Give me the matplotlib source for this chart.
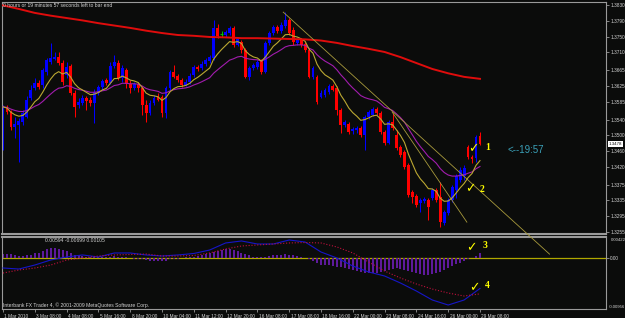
import numpy as np
import pandas as pd
import matplotlib
matplotlib.use("Agg")
import matplotlib.pyplot as plt
from matplotlib import transforms

# EURUSD-like candles, 1 Mar - 29 Mar 2010
opens = [1.3470, 1.3572, 1.3559, 1.3521, 1.3526, 1.3534, 1.3546, 1.3595, 1.3620, 1.3633,
         1.3627, 1.3660, 1.3686, 1.3693, 1.3698, 1.3683, 1.3653, 1.3676, 1.3607, 1.3577,
         1.3582, 1.3595, 1.3589, 1.3582, 1.3607, 1.3622, 1.3640, 1.3633, 1.3676, 1.3683,
         1.3645, 1.3665, 1.3630, 1.3620, 1.3630, 1.3620, 1.3577, 1.3557, 1.3582, 1.3600,
         1.3597, 1.3557, 1.3620, 1.3660, 1.3650, 1.3640, 1.3627, 1.3635, 1.3653, 1.3673,
         1.3671, 1.3681, 1.3688, 1.3696, 1.3772, 1.3757, 1.3754, 1.3759, 1.3772, 1.3729,
         1.3736, 1.3716, 1.3648, 1.3671, 1.3673, 1.3688, 1.3660, 1.3734, 1.3759, 1.3774,
         1.3764, 1.3777, 1.3792, 1.3767, 1.3734, 1.3741, 1.3731, 1.3716, 1.3648, 1.3648,
         1.3597, 1.3602, 1.3610, 1.3625, 1.3620, 1.3564, 1.3526, 1.3529, 1.3511, 1.3513,
         1.3518, 1.3501, 1.3546, 1.3551, 1.3567, 1.3557, 1.3508, 1.3480, 1.3534, 1.3501,
         1.3470, 1.3458, 1.3425, 1.3356, 1.3346, 1.3329, 1.3334, 1.3336, 1.3341, 1.3361,
         1.3344, 1.3278, 1.3303, 1.3336, 1.3361, 1.3387, 1.3397, 1.3470, 1.3445, 1.3443,
         1.3498]
highs = [1.3577, 1.3577, 1.3564, 1.3546, 1.3544, 1.3564, 1.3600, 1.3627, 1.3645, 1.3640,
         1.3671, 1.3696, 1.3734, 1.3711, 1.3711, 1.3691, 1.3686, 1.3681, 1.3615, 1.3595,
         1.3602, 1.3600, 1.3597, 1.3617, 1.3627, 1.3643, 1.3645, 1.3686, 1.3703, 1.3691,
         1.3678, 1.3671, 1.3640, 1.3635, 1.3635, 1.3625, 1.3589, 1.3589, 1.3602, 1.3607,
         1.3602, 1.3625, 1.3665, 1.3678, 1.3655, 1.3645, 1.3643, 1.3658, 1.3678, 1.3678,
         1.3688, 1.3696, 1.3703, 1.3792, 1.3782, 1.3764, 1.3767, 1.3777, 1.3777, 1.3749,
         1.3741, 1.3721, 1.3676, 1.3683, 1.3691, 1.3693, 1.3739, 1.3764, 1.3779, 1.3779,
         1.3787, 1.3812, 1.3797, 1.3774, 1.3746, 1.3746, 1.3736, 1.3721, 1.3676, 1.3653,
         1.3615, 1.3620, 1.3630, 1.3630, 1.3625, 1.3569, 1.3539, 1.3534, 1.3521, 1.3524,
         1.3524, 1.3551, 1.3564, 1.3572, 1.3572, 1.3562, 1.3513, 1.3539, 1.3557, 1.3513,
         1.3475, 1.3463, 1.3430, 1.3361, 1.3351, 1.3341, 1.3344, 1.3341, 1.3367, 1.3367,
         1.3382, 1.3311, 1.3341, 1.3374, 1.3402, 1.3420, 1.3425, 1.3475, 1.3450, 1.3501,
         1.3508]
lows = [1.3463, 1.3554, 1.3513, 1.3493, 1.3432, 1.3526, 1.3544, 1.3589, 1.3615, 1.3617,
        1.3620, 1.3653, 1.3681, 1.3691, 1.3678, 1.3627, 1.3645, 1.3602, 1.3546, 1.3569,
        1.3577, 1.3564, 1.3574, 1.3531, 1.3602, 1.3615, 1.3627, 1.3630, 1.3671, 1.3640,
        1.3635, 1.3620, 1.3607, 1.3615, 1.3610, 1.3551, 1.3534, 1.3551, 1.3577, 1.3587,
        1.3546, 1.3544, 1.3615, 1.3645, 1.3635, 1.3622, 1.3625, 1.3630, 1.3648, 1.3663,
        1.3665, 1.3676, 1.3683, 1.3691, 1.3746, 1.3749, 1.3749, 1.3754, 1.3724, 1.3726,
        1.3709, 1.3645, 1.3640, 1.3665, 1.3668, 1.3655, 1.3658, 1.3729, 1.3754, 1.3759,
        1.3759, 1.3772, 1.3754, 1.3729, 1.3729, 1.3724, 1.3711, 1.3645, 1.3643, 1.3579,
        1.3595, 1.3597, 1.3605, 1.3612, 1.3551, 1.3506, 1.3521, 1.3503, 1.3503, 1.3506,
        1.3496, 1.3463, 1.3541, 1.3549, 1.3551, 1.3503, 1.3475, 1.3478, 1.3513, 1.3463,
        1.3445, 1.3415, 1.3344, 1.3329, 1.3318, 1.3306, 1.3329, 1.3285, 1.3336, 1.3331,
        1.3268, 1.3273, 1.3298, 1.3331, 1.3341, 1.3382, 1.3387, 1.3440, 1.3430, 1.3432,
        1.3475]
closes = [1.3572, 1.3559, 1.3521, 1.3529, 1.3536, 1.3557, 1.3589, 1.3615, 1.3633, 1.3622,
          1.3665, 1.3691, 1.3696, 1.3698, 1.3683, 1.3635, 1.3673, 1.3607, 1.3572, 1.3584,
          1.3595, 1.3587, 1.3582, 1.3610, 1.3622, 1.3638, 1.3633, 1.3676, 1.3686, 1.3645,
          1.3671, 1.3630, 1.3620, 1.3630, 1.3620, 1.3577, 1.3557, 1.3582, 1.3595, 1.3589,
          1.3557, 1.3620, 1.3660, 1.3648, 1.3640, 1.3627, 1.3635, 1.3650, 1.3673, 1.3668,
          1.3681, 1.3691, 1.3698, 1.3772, 1.3752, 1.3757, 1.3762, 1.3772, 1.3729, 1.3744,
          1.3716, 1.3648, 1.3671, 1.3678, 1.3686, 1.3660, 1.3734, 1.3759, 1.3774, 1.3764,
          1.3779, 1.3792, 1.3759, 1.3736, 1.3741, 1.3729, 1.3716, 1.3648, 1.3671, 1.3584,
          1.3607, 1.3615, 1.3625, 1.3615, 1.3564, 1.3526, 1.3534, 1.3508, 1.3516, 1.3518,
          1.3501, 1.3546, 1.3559, 1.3567, 1.3557, 1.3508, 1.3480, 1.3534, 1.3518, 1.3468,
          1.3450, 1.3420, 1.3349, 1.3344, 1.3323, 1.3336, 1.3339, 1.3318, 1.3361, 1.3336,
          1.3280, 1.3306, 1.3336, 1.3369, 1.3397, 1.3412, 1.3417, 1.3445, 1.3440, 1.3496,
          1.3478]

# long moving average (red), sampled every 4 bars
slow_ma_bars = list(range(0, 121, 4))
slow_ma = [1.3829, 1.3820, 1.3810, 1.3803, 1.3797, 1.3791, 1.3784, 1.3778, 1.3772, 1.3765,
           1.3759, 1.3754, 1.3752, 1.3749, 1.3748, 1.3746, 1.3746, 1.3745, 1.3744, 1.3743,
           1.3740, 1.3734, 1.3726, 1.3719, 1.3711, 1.3698, 1.3683, 1.3668, 1.3657, 1.3648,
           1.3643]

# oscillator window: main line, signal line (every 4 bars) and histogram (every bar)
osc_bars = list(range(0, 121, 4))
osc_main = [-0.00195, -0.00215, -0.00137, -0.00039, 0.00020, 0.00059, 0.00020, 0.00098, 0.00098, 0.00059,
            0.00039, 0.00059, 0.00088, 0.00156, 0.00293, 0.00332, 0.00273, 0.00273, 0.00351, 0.00312,
            0.00117, 0.0, -0.00156, -0.00273, -0.00351, -0.00488, -0.00644, -0.00819, -0.00917, -0.00819,
            -0.00594]
osc_signal = [-0.00293, -0.00234, -0.00195, -0.00137, -0.00039, 0.0, 0.00039, 0.00059, 0.00068, 0.00078,
              0.00039, 0.00039, 0.00049, 0.00098, 0.00176, 0.00234, 0.00254, 0.00273, 0.00293, 0.00302,
              0.00293, 0.00215, 0.00098, -0.00078, -0.00254, -0.00390, -0.00507, -0.00605, -0.00683, -0.00741,
              -0.00699]
osc_hist = [0.00078, 0.00078, 0.00078, 0.00059, 0.00039, 0.00039, 0.00049, 0.00059, 0.00088, 0.00107,
            0.00127, 0.00166, 0.00195, 0.00195, 0.00185, 0.00156, 0.00127, 0.00098, 0.00068, 0.00059,
            0.00039, 0.00029, 0.00020, 0.00020, 0.00010, 0.00010, 0.00020, 0.00029, 0.00039, 0.00029,
            0.00020, 0.00010, 0.00005, -0.00010, -0.00020, -0.00029, -0.00039, -0.00049, -0.00059, -0.00068,
            -0.00059, -0.00049, -0.00029, -0.00020, -0.00010, -0.00005, 0.00020, 0.00020, 0.00029, 0.00039,
            0.00059, 0.00078, 0.00098, 0.00117, 0.00137, 0.00156, 0.00166, 0.00176, 0.00156, 0.00137,
            0.00107, 0.00078, 0.00049, 0.00029, 0.00020, 0.00010, 0.00020, 0.00039, 0.00059, 0.00059,
            0.00068, 0.00078, 0.00068, 0.00049, 0.00039, 0.00020, 0.00005, -0.00029, -0.00059, -0.00098,
            -0.00127, -0.00137, -0.00146, -0.00156, -0.00176, -0.00185, -0.00195, -0.00215, -0.00234, -0.00254,
            -0.00273, -0.00293, -0.00293, -0.00293, -0.00283, -0.00273, -0.00254, -0.00234, -0.00215, -0.00195,
            -0.00215, -0.00234, -0.00254, -0.00273, -0.00293, -0.00312, -0.00322, -0.00332, -0.00312, -0.00293,
            -0.00273, -0.00234, -0.00195, -0.00156, -0.00117, -0.00088, -0.00059, -0.00029, 0.0, 0.00039,
            0.00105]

# trend lines: (bar, price) end points
trend_a = [(70.5, 1.3812), (137.5, 1.3199)]
trend_b = [(97.9, 1.3559), (116.7, 1.3280)]

price_ticks = [1.3830, 1.3790, 1.3750, 1.3710, 1.3665, 1.3625, 1.3585, 1.3540,
               1.3500, 1.3460, 1.3420, 1.3375, 1.3335, 1.3295, 1.3255]
last_price = 1.3478
date_ticks = list(range(0, 121, 8))
date_labels = ['1 Mar 2010', '3 Mar 08:00', '4 Mar 08:00', '5 Mar 16:00', '8 Mar 20:00',
               '10 Mar 04:00', '11 Mar 12:00', '12 Mar 20:00', '16 Mar 08:00', '17 Mar 08:00',
               '18 Mar 16:00', '22 Mar 00:00', '23 Mar 08:00', '24 Mar 16:00', '26 Mar 00:00',
               '29 Mar 08:00']

BG = '#0b0c0b'
FRAME = '#9a9a9a'
TXT = '#d4d4d4'
FS = 3.4
small = dict(family='Liberation Sans', size=3.6, color=TXT)
axis_txt = dict(family='Liberation Sans', size=3.1, color=TXT)

W, H = 625, 318
fig = plt.figure(figsize=(W / 100, H / 100), dpi=100, facecolor=BG)


def box(x0, y0, x1, y1):
    return [x0 / W, 1 - y1 / H, (x1 - x0) / W, (y1 - y0) / H]


ax = fig.add_axes(box(2, 2, 606, 234))
ax2 = fig.add_axes(box(2, 236.5, 606, 309), sharex=ax)
ax.set_zorder(3)   # let the trend line run over the lower window

for a in (ax, ax2):
    a.set_facecolor(BG)
    for s in a.spines.values():
        s.set_color(FRAME)
        s.set_linewidth(0.8)
    a.yaxis.tick_right()
    a.tick_params(axis='y', colors=FRAME, length=2, width=0.6, pad=1.0,
                  labelsize=FS, labelcolor=TXT)
ax.spines['bottom'].set_linewidth(1.5)
ax2.spines['top'].set_linewidth(1.5)

# ---- candles
idx = np.arange(len(closes))
o, h, l, c = (np.array(v) for v in (opens, highs, lows, closes))
cols = np.where(c > o, '#0000ff', np.where(c < o, '#ff0000', '#00c000'))
doji = c == o
ax.vlines(idx, l, h, colors=cols, lw=0.75, zorder=2)
ax.bar(idx[~doji], (c - o)[~doji], bottom=o[~doji], width=0.72,
       color=cols[~doji], linewidth=0, zorder=2)
ax.hlines(c[doji], idx[doji] - 0.45, idx[doji] + 0.45, colors='#00c000', lw=0.8, zorder=2)

# ---- moving averages
fast = pd.Series(c).ewm(span=8, adjust=False).mean()
mid = pd.Series(c).ewm(span=21, adjust=False).mean()
ax.plot(idx, mid, color='#a21cae', lw=0.8, zorder=3)
ax.plot(idx, fast, color='#bba832', lw=0.8, zorder=3)
ax.plot(slow_ma_bars, slow_ma, color='#e00c0c', lw=1.4, zorder=3)

for ln in (trend_a, trend_b):
    xs, ys = zip(*ln)
    ax.plot(xs, ys, color='#a89a3c', lw=0.6, zorder=4, clip_on=False)

ax.set_xlim(-0.25, 151.7)
ax.set_ylim(1.3250, 1.38376)
ax.set_yticks(price_ticks)
ax.set_yticklabels(['%.4f' % p for p in price_ticks], family='Liberation Sans')
ax.tick_params(axis='x', bottom=False, labelbottom=False)

# current price marker
ax.text(1.005, last_price, '%.4f' % last_price, transform=ax.get_yaxis_transform(),
        ha='left', va='center', family='Liberation Sans', size=3.2, color='#101010',
        bbox=dict(boxstyle='square,pad=0.2', fc='white', ec='none'), clip_on=False)

# ---- oscillator window
ax2.bar(idx, osc_hist, width=0.5, color='#5e1a9c', linewidth=0, zorder=2)
ax2.plot(osc_bars, osc_main, color='#1616c8', lw=0.8, zorder=3)
ax2.plot(osc_bars, osc_signal, color='#c0103c', lw=0.8, ls=(0, (1, 1.6)), zorder=3)
ax2.axhline(0, color='#b0a800', lw=0.9, zorder=1)
ax2.set_ylim(-0.009945, 0.0041925)
ax2.set_yticks([0])
ax2.set_yticklabels(['0.00'], family='Liberation Sans')
ytr = ax2.get_yaxis_transform()
ax2.text(1.008, 0.0036, '0.00422', transform=ytr, ha='left', va='center', **axis_txt)
ax2.text(1.004, -0.00956, '-0.00956', transform=ytr, ha='left', va='center',
         clip_on=False, **axis_txt)

ax2.set_xticks(date_ticks)
ax2.set_xticklabels(date_labels, family='Liberation Sans')
ax2.tick_params(axis='x', colors=FRAME, length=2.5, width=0.6, pad=1.0,
                labelsize=FS, labelcolor=TXT)
shift = transforms.ScaledTranslation(1.5 / 100, 0, fig.dpi_scale_trans)
for t in ax2.get_xticklabels():
    t.set_ha('left')
    t.set_transform(t.get_transform() + shift)

# ---- annotations
def ftext(x, y, s, **kw):
    fig.text(x / W, 1 - y / H, s, va='center', **kw)


ftext(3, 5.5, '0 hours or 19 minutes 57 seconds left to bar end', **small)
ftext(45, 240.5, '0.00594 -0.00699 0.00105', **small)
ftext(3, 305, 'Interbank FX Trader 4, \u00a9 2001-2009 MetaQuotes Software Corp.', **small)
ftext(508, 150, '<--19:57', family='Liberation Sans', size=7, color='#3aa0b8')

check = dict(family='DejaVu Sans', size=9, color='#ffff00', fontweight='bold', ha='center')
num = dict(family='Liberation Serif', size=7, color='#ffff00', fontweight='bold', ha='left')
for cx, cy, nx, ny, n in [(473, 149, 485, 147, '1'), (470, 189, 480, 190, '2'),
                          (471, 248, 483, 245, '3'), (474, 288, 485, 286, '4')]:
    ftext(cx, cy, '\u2713', **check)
    ftext(nx, ny, n, **num)

fig.savefig('out.png', dpi=100, facecolor=BG)
